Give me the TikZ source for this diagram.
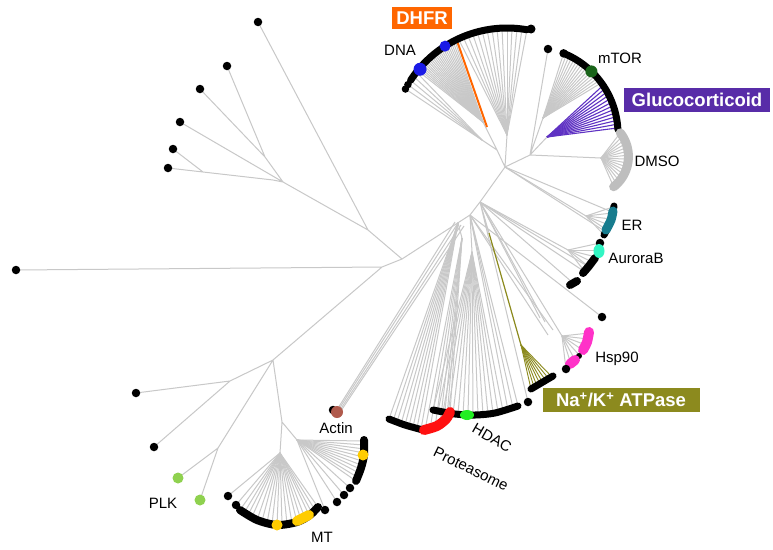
\documentclass[tikz,border=0pt]{standalone}
\usepackage{fontspec}
\setmainfont{Liberation Sans}
\usetikzlibrary{calc}
\definecolor{gl}{RGB}{200,200,200}
\definecolor{dhfrc}{RGB}{255,102,0}
\definecolor{dnac}{RGB}{26,26,230}
\definecolor{mtorc}{RGB}{26,100,26}
\definecolor{glucc}{RGB}{88,44,168}
\definecolor{glucl}{RGB}{95,50,195}
\definecolor{dmsoc}{RGB}{190,190,190}
\definecolor{erc}{RGB}{23,124,142}
\definecolor{aurc}{RGB}{50,245,195}
\definecolor{hspc}{RGB}{255,50,200}
\definecolor{nakc}{RGB}{140,138,30}
\definecolor{protc}{RGB}{255,16,16}
\definecolor{hdacc}{RGB}{34,238,34}
\definecolor{actc}{RGB}{176,90,76}
\definecolor{mtc}{RGB}{255,204,0}
\definecolor{plkc}{RGB}{143,209,79}
\newcommand\fanto[2]{\foreach \x/\y in {#2} \draw[br] (#1) -- (\x,\y);}
\begin{document}
\begin{tikzpicture}[x=1pt,y=-1pt,
  br/.style={draw=gl,line width=1pt},
  leaf/.style={circle,fill=black,inner sep=0pt,minimum size=8.5pt},
  arcb/.style={draw=black,line width=7pt,line cap=round,line join=round},
  lab/.style={font=\fontsize{15}{17}\selectfont,inner sep=0pt},
  tagbox/.style={font=\bfseries\fontsize{18.5}{20}\selectfont,text=white,inner sep=0pt}]
\fill[white] (0,0) rectangle (773,549);
\useasboundingbox (0,0) rectangle (773,549);

% internal coordinates
\coordinate (R0) at (402,259);
\coordinate (L1) at (382,267);
\coordinate (TL) at (368,230);
\coordinate (D1) at (458,223);
\coordinate (C1) at (470,215);
\coordinate (B1) at (480,202);
\coordinate (A0) at (505,167);
\coordinate (HDm) at (497,150);
\coordinate (HD0) at (482,140);
\coordinate (HD1) at (483,122);
\coordinate (HD2) at (507,135);
\coordinate (G1) at (530,155);
\coordinate (M0) at (543,118);
\coordinate (P0) at (547,137);
\coordinate (DMh) at (601,158);
\coordinate (ERh) at (586,216);
\coordinate (AUh) at (568,250);
\coordinate (HSh) at (562,336);
\coordinate (NKh) at (489,233);
\coordinate (NKf) at (521,345);
\coordinate (PRh) at (472,252);
\coordinate (PLh) at (462,238);
\coordinate (LL) at (273,360);
\coordinate (J5) at (230,381);
\coordinate (PLKJ) at (218,448);
\coordinate (MTJ) at (282,422);
\coordinate (MTR) at (297,440);
\coordinate (MTB) at (280,453);
\coordinate (J1) at (283,182);
\coordinate (J2) at (265,157);
\coordinate (J3) at (273,180);
\coordinate (J4) at (203,172);
% leaf coordinates
\coordinate (lf1) at (16,270);
\coordinate (lt0) at (258,22);
\coordinate (lt1) at (227,66);
\coordinate (lt2) at (200,89);
\coordinate (lt3) at (180,122);
\coordinate (lt4) at (173,149);
\coordinate (lt5) at (168,168);
\coordinate (lb1) at (136,393);
\coordinate (lb2) at (154,447);
\coordinate (plk1) at (178,478);
\coordinate (plk2) at (200,500);
\coordinate (mtop) at (548,49);
\coordinate (dot) at (602,317);
\coordinate (dotP) at (528,402);
\coordinate (aub) at (573,283);
\coordinate (act) at (337,412);

% tree edges
\draw[br] (R0)--(L1) (L1)--(lf1) (L1)--(LL) (LL)--(J5) (J5)--(lb1) (J5)--(lb2)
  (LL)--(PLKJ) (PLKJ)--(plk1) (PLKJ)--(plk2) (LL)--(MTJ) (MTJ)--(MTR) (MTJ)--(MTB);
\draw[br] (R0)--(TL) (TL)--(lt0) (TL)--(J1) (J1)--(J2) (J2)--(lt1) (J2)--(lt2)
  (J1)--(lt3) (J1)--(J3) (J3)--(J4) (J4)--(lt5) (J4)--(lt4);
\draw[br] (R0)--(C1)--(B1)--(A0);
\draw[br] (A0)--(HDm) (HDm)--(HD0) (HDm)--(HD1) (A0)--(HD2);
\draw[br] (A0)--(G1) (G1)--(mtop) (G1)--(M0) (G1)--(P0) (G1)--(DMh);
\draw[br] (A0)--(ERh) (B1)--(AUh) (B1)--(aub) (B1)--(HSh) (B1)--(NKh)
  (B1)--(dotP) (C1)--(dot) (C1)--(PRh) (D1)--(PLh);
\fanto{B1}{540/318,545/322}
\fanto{C1}{548/335,553/330}

% DNA / DHFR fans
\foreach \t in {-152,-149.5,-147,-144.5,-142}
  \draw[br] (HD0) -- ({507+115*cos(\t)},{143+115*sin(\t)});
\foreach \t in {-141,-140,...,-117}
  \draw[br] (HD1) -- ({507+115*cos(\t)},{143+115*sin(\t)});
\foreach \t in {-115,-112.5,...,-79}
  \draw[br] (HD2) -- ({507+115*cos(\t)},{143+115*sin(\t)});
\draw[dhfrc,line width=2pt] ({507+115*cos(-116)},{143+115*sin(-116)}) -- (487,127);
\draw[arcb] plot[domain=-147:-80,samples=40,variable=\t] ({507+115*cos(\t)},{143+115*sin(\t)});
\node[leaf,minimum size=7.5pt] (dnl1) at ({507+115*cos(-152)},{143+115*sin(-152)}) {};
\node[leaf,minimum size=7.5pt] (dnl2) at ({507+115*cos(-149.5)},{143+115*sin(-149.5)}) {};
\node[leaf,minimum size=9pt] (dnr) at (531,29) {};
\fill[dnac] ({507+114*cos(-139.7)},{143+114*sin(-139.7)}) circle[radius=6.5pt];
\fill[dnac] ({507+115*cos(-122.6)},{143+115*sin(-122.6)}) circle[radius=5.5pt];

% mTOR / Glucocorticoid
\foreach \t in {-68,-66,...,-36}
  \draw[br] (M0) -- ({531+87*cos(\t)},{134+87*sin(\t)});
\foreach \t in {-34,-31.5,...,-3}
  \draw[glucl,line width=1.1pt] (P0) -- ({531+87*cos(\t)},{134+87*sin(\t)});
\draw[arcb] plot[domain=-67:-3,samples=40,variable=\t] ({531+87*cos(\t)},{134+87*sin(\t)});
\node[leaf] (mtl) at ({531+87*cos(-68)},{134+87*sin(-68)}) {};
\fill[mtorc] ({531+87*cos(-46)},{134+87*sin(-46)}) circle[radius=6pt];

% DMSO
\foreach \t in {-38,-32,...,52}
  \draw[br] (DMh) -- ({590+38.4*cos(\t)},{156.5+38.4*sin(\t)});
\draw[dmsoc,line width=9pt,line cap=round] plot[domain=-38:52,samples=30,variable=\t] ({590+38.4*cos(\t)},{156.5+38.4*sin(\t)});

% ER
\fanto{ERh}{613/207,612/213,611/219,609/225,607/230,604/235}
\fanto{A0}{612/212,606/232}
\draw[arcb] plot[smooth] coordinates {(614,206) (611,220) (604,235)};
\draw[erc,line width=9pt,line cap=round] plot[smooth] coordinates {(613,211) (611,220) (606,230)};

% AuroraB
\fanto{AUh}{600/243,599/250,596/257,592/262,589/267,585/272}
\fanto{B1}{585/272,589/267}
\node[leaf] (au0) at (600,243) {};
\draw[arcb,line width=8pt] plot[smooth] coordinates {(595,258) (589,266) (583,273)};
\fill[aurc] (599,251) ellipse[x radius=5.5pt,y radius=7pt];
\draw[arcb,line width=8pt] (570,285) -- (577,281);

% single dot
\node[leaf] (dotn) at (dot) {};

% Hsp90
\fanto{HSh}{589/333,588/339,586/345,584/351,580/356,575/360,571/364,566/369}
\draw[hspc,line width=10pt,line cap=round] plot[smooth] coordinates {(589,332) (587,342) (583,350)};
\fill[black] (579,356) circle[radius=3pt];
\draw[hspc,line width=10pt,line cap=round] (575,360) -- (570,364);
\node[leaf] (hsl) at (566,369) {};

% Na+/K+ ATPase
\draw[nakc,line width=1.2pt] (NKh) -- (NKf);
\foreach \x/\y in {531/389,534/387,537/386,540/384,543/383,546/381,549/379,552/377}
  \draw[nakc,line width=0.9pt] (NKf) -- (\x,\y);
\draw[arcb] (531,389) -- (553,376);
\node[leaf] (dotPn) at (dotP) {};

% Proteasome / HDAC
\fanto{D1}{389/419,393/421,397/422,401/424,405/425,409/426,413/427,417/428,421/429}
\fanto{PLh}{425/430,430/429,435/427,440/424,444/421,447/417,450/413}
\fanto{PRh}{433/410,438/411,443/412,448/413,453/414,458/414,463/415,468/415,473/415,478/415,483/414,488/414,493/413,498/412,503/411}
\fanto{C1}{508/410,513/408,518/406}
\draw[arcb] plot[smooth] coordinates {(433,410) (455,414) (475,415) (495,413) (518,406)};
\draw[arcb] plot[smooth] coordinates {(389,419) (405,425) (423,430)};
\draw[protc,line width=10pt,line cap=round] plot[smooth] coordinates {(424,430) (437,426) (446,419) (450,412)};
\fill[hdacc] (467,415) ellipse[x radius=7pt,y radius=5pt];

% Actin
\foreach \a/\b in {0/0,3/2,6/3,-3/-1}
  \draw[br] ($(D1)+(\a,\b)$) -- ($(act)+(\a*0.4,\b*0.4)$);
\node[leaf] (actb) at (333,410) {};
\fill[actc] (act) circle[radius=6pt];

% MT right arc
\fanto{MTR}{364/441,364/445,364/449,364/453,363/457,362/461,361/465,360/469,359/473,357/477,356/481,350/488,344/495,337/502,325/510}
\draw[arcb,line width=8pt] plot[smooth] coordinates {(364,440) (364,455) (361,468) (356,481)};
\fill[mtc] (363,455) circle[radius=5.5pt];
\node[leaf] (mr1) at (350,488) {};
\node[leaf] (mr2) at (344,495) {};
\node[leaf] (mr3) at (337,502) {};
\node[leaf] (mr4) at (325,510) {};
% MT bottom arc
\fanto{MTB}{228/496,236/505,240/510,244/513,248/515,252/517,257/520,262/521,267/523,272/524,277/525,282/525,287/524,292/523,297/522,301/520,305/518,309/515,312/513,315/510,318/507}
\draw[arcb,line width=8pt] plot[smooth] coordinates {(240,510) (257,520) (277,525) (297,522) (310,515) (318,507)};
\node[leaf] (mb1) at (228,496) {};
\node[leaf] (mb2) at (236,505) {};
\fill[mtc] (277,525) circle[radius=5.5pt];
\draw[mtc,line width=10pt,line cap=round] (297,521) -- (309,515);

% leaves
\foreach \n in {lf1,lt0,lt1,lt2,lt3,lt4,lt5,lb1,lb2,mtop}
  \node[leaf] (\n d) at (\n) {};
\node[circle,fill=plkc,inner sep=0pt,minimum size=11pt] (plk1d) at (plk1) {};
\node[circle,fill=plkc,inner sep=0pt,minimum size=11pt] (plk2d) at (plk2) {};

% labels
\node[tagbox,fill=dhfrc,minimum width=60pt,minimum height=22pt] (dhfr) at (422,18) {DHFR};
\node[lab] (dna) at (400,50) {DNA};
\node[lab] (mtor) at (620,58) {mTOR};
\node[tagbox,fill=glucc,minimum width=146pt,minimum height=24pt] (gluc) at (697,100) {Glucocorticoid};
\node[lab] (dmso) at (657,161) {DMSO};
\node[lab] (er) at (632,225) {ER};
\node[lab] (aurb) at (636,258) {AuroraB};
\node[lab] (hsp) at (617,359) {Hsp90};
\node[tagbox,fill=nakc,minimum width=157pt,minimum height=24pt] (nak) at (621,400) {Na\textsuperscript{+}/K\textsuperscript{+} ATPase};
\node[lab,rotate=-30] (hdac) at (492,438) {HDAC};
\node[lab,rotate=-26] (prot) at (471,469) {Proteasome};
\node[lab] (actin) at (336,428) {Actin};
\node[lab] (plk) at (163,503) {PLK};
\node[lab] (mt) at (322,537) {MT};
\end{tikzpicture}
\end{document}
